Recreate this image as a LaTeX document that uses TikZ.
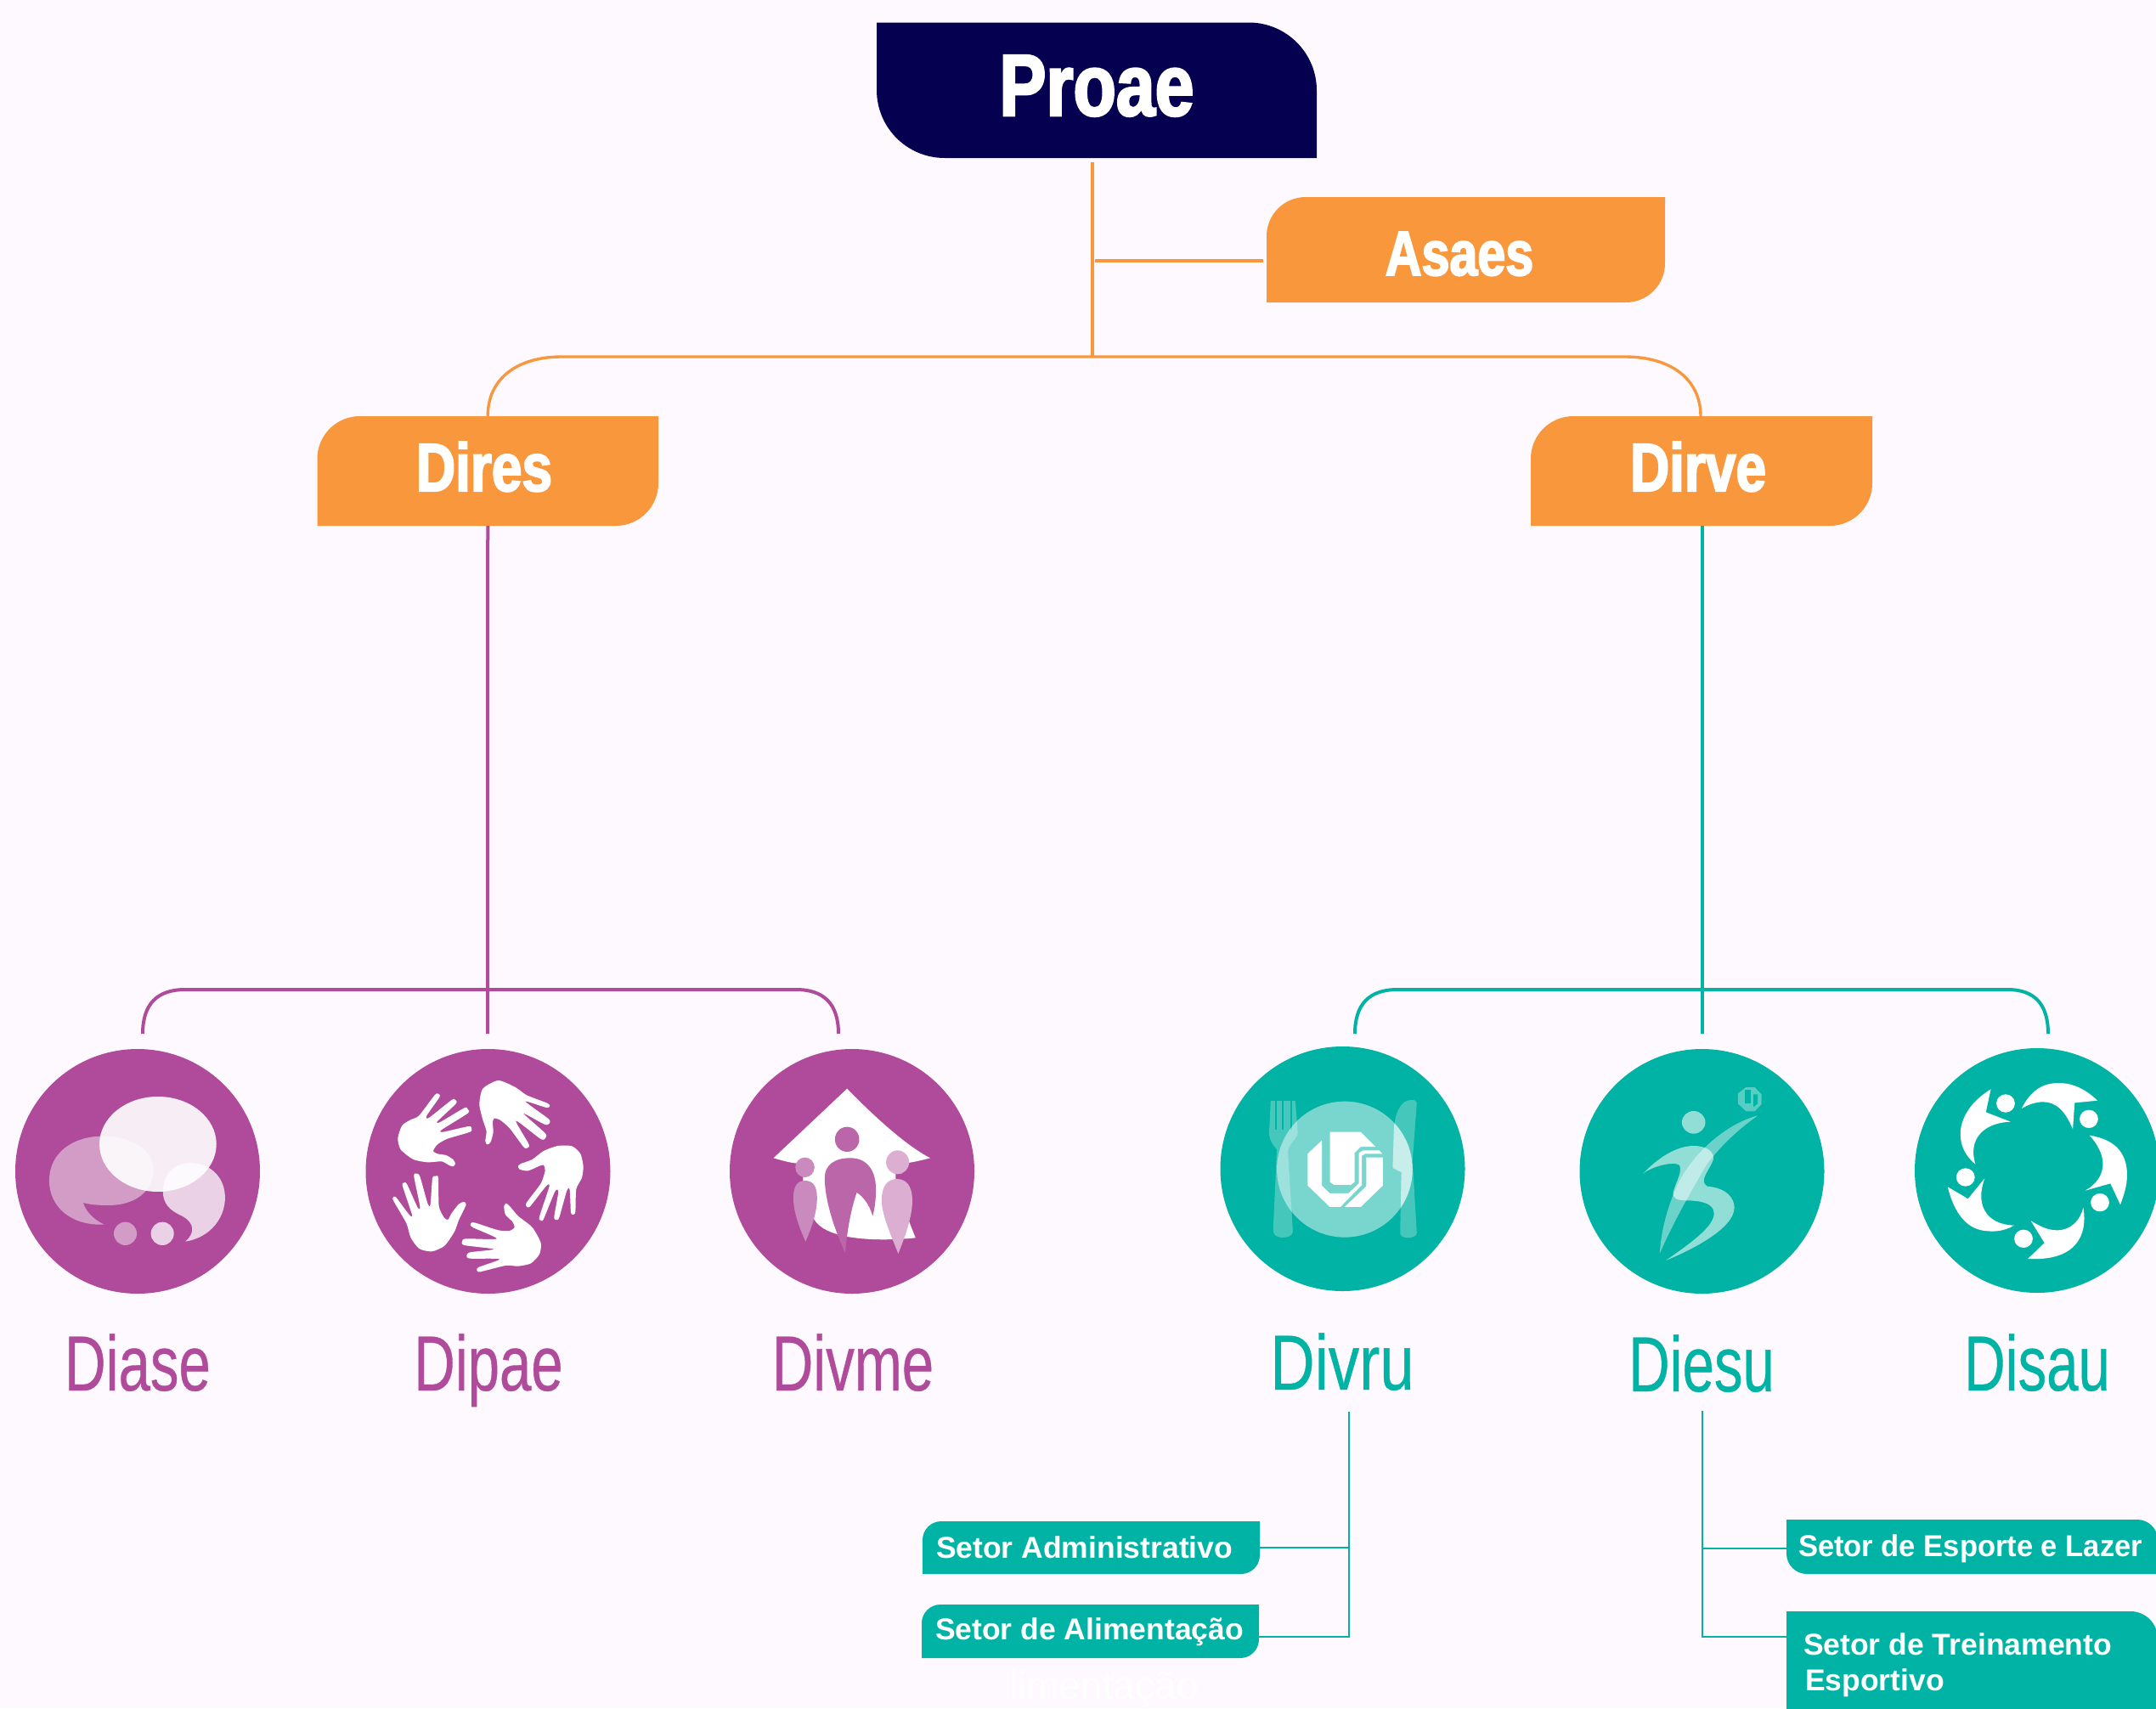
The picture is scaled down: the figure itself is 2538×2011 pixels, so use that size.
\documentclass[tikz,border=0pt]{standalone}
\usepackage{fontspec}
\setmainfont{Liberation Sans}
\newfontfamily\headfont[FakeStretch=0.8,BoldFeatures={FakeBold=2.5}]{Liberation Sans}
\newfontfamily\divfont[FakeStretch=0.73,FakeBold=0.4]{Liberation Sans}
\newfontfamily\divwidefont[FakeStretch=0.79,FakeBold=0.4]{Liberation Sans}
\newfontfamily\espfont[FakeStretch=0.973]{Liberation Sans}
\definecolor{bgc}{HTML}{FEF9FF}
\definecolor{navyc}{HTML}{050050}
\definecolor{orangec}{HTML}{F9973D}
\definecolor{purplec}{HTML}{AF4B9A}
\definecolor{tealc}{HTML}{00B3A4}
\tikzset{
  orangeline/.style={draw=orangec,line width=3.4pt},
  purpleline/.style={draw=purplec,line width=4pt},
  tealline/.style={draw=tealc,line width=4pt},
  sectorline/.style={draw=tealc,line width=2.6pt},
  boxframe/.style={inner sep=0pt,outer sep=0pt,draw=none,fill=none},
  headlabel/.style={inner sep=0pt,outer sep=0pt,anchor=base,text=white},
  divlabel/.style={inner sep=0pt,outer sep=0pt,anchor=base},
  sectorlabel/.style={inner sep=0pt,outer sep=0pt,anchor=base west,text=white,font=\fontsize{35.5}{42}\selectfont\bfseries},
  discnode/.style={circle,inner sep=0pt,outer sep=0pt,minimum size=288pt},
  handshape/.style={fill=white,draw=none},
}
% box with top-right and bottom-left corners rounded
\newcommand{\boxTRBL}[7]{%
  \fill[#7] (#2,#3) -- ({#4-#6},#3) arc[start angle=90,end angle=0,radius=#6 pt] -- (#4,#5)
     -- ({#2+#6},#5) arc[start angle=270,end angle=180,radius=#6 pt] -- cycle;
  \node[boxframe,minimum width={(#4-#2)*1pt},minimum height={(#5-#3)*1pt}] (#1) at ({(#2+#4)/2},{(#3+#5)/2}) {};}
% box with top-left and bottom-right corners rounded
\newcommand{\boxTLBR}[7]{%
  \fill[#7] (#4,#3) -- ({#2+#6},#3) arc[start angle=90,end angle=180,radius=#6 pt] -- (#2,#5)
     -- ({#4-#6},#5) arc[start angle=270,end angle=360,radius=#6 pt] -- cycle;
  \node[boxframe,minimum width={(#4-#2)*1pt},minimum height={(#5-#3)*1pt}] (#1) at ({(#2+#4)/2},{(#3+#5)/2}) {};}
\begin{document}
\begin{tikzpicture}[x=1pt,y=-1pt]
\useasboundingbox (0,0) rectangle (2538,2011);
\clip (0,0) rectangle (2538,2011);
\fill[bgc] (0,0) rectangle (2538,2011);

% ---------- boxes
\boxTRBL{proae}{1032}{26.5}{1550}{186}{80}{navyc}
\boxTLBR{asaes}{1491}{232}{1960}{356}{46}{orangec}
\boxTLBR{dires}{373.5}{490}{775}{619}{50}{orangec}
\boxTLBR{dirve}{1802}{490}{2204}{619}{50}{orangec}
\boxTLBR{sadm}{1086}{1791}{1483}{1853}{22}{tealc}
\boxTLBR{salim}{1085}{1889}{1482}{1952}{22}{tealc}
\boxTRBL{sesp}{2103}{1789}{2540}{1853}{24}{tealc}
\boxTRBL{strein}{2103}{1897}{2540}{2045}{32}{tealc}

\node[headlabel,font=\fontsize{103}{103}\selectfont\bfseries\headfont] (proaeT) at (1291,136) {Proae};
\node[headlabel,font=\fontsize{74}{74}\selectfont\bfseries\headfont] (asaesT) at (1718,324) {Asaes};
\node[headlabel,font=\fontsize{80}{80}\selectfont\bfseries\headfont] (diresT) at (570,578) {Dires};
\node[headlabel,font=\fontsize{80}{80}\selectfont\bfseries\headfont] (dirveT) at (1999,578) {Dirve};

\node[sectorlabel] (sadmT) at (1102,1834) {Setor Administrativo};
\node[sectorlabel] (salimT) at (1101,1930) {Setor de Alimentação};
\node[sectorlabel,font=\fontsize{35.5}{42}\selectfont\bfseries\espfont] (sespT) at (2117,1832) {Setor de Esporte e Lazer};
\node[sectorlabel] (streinT) at (2123,1948) {Setor de Treinamento};
\node[sectorlabel] (streinU) at (2125,1990) {Esportivo};
\node[inner sep=0pt,anchor=base west,text=white,font=\fontsize{46}{46}\selectfont] (ghost) at (1188,2000) {limentação};

% ---------- connectors
\coordinate (ptop) at (1286,191);
\coordinate (hub) at (1286,420);
\coordinate (hubAs) at (1289,307);
\coordinate (asEnd) at (1487,307);
\coordinate (hl) at (661,420);
\coordinate (hr) at (1913,420);
\draw[orangeline] (ptop) -- (hub);
\draw[orangeline] (hubAs) -- (asEnd);
\draw[orangeline] (dires.north) .. controls (574,445) and (610,420) .. (hl) -- (hr) .. controls (1965,420) and (2002,445) .. (2002,490);

\coordinate (pj) at (574,1164);
\coordinate (pc) at (574,1217);
\coordinate (pl) at (168,1217);
\coordinate (pr) at (987,1217);
\draw[purpleline] (dires.south) -- (pc);
\draw[purpleline] (pl) .. controls (168,1182) and (185,1165) .. (218,1165) -- (937,1165) .. controls (970,1165) and (987,1182) .. (pr);

\coordinate (ttop) at (2004,619);
\coordinate (tc) at (2004,1217);
\coordinate (tl) at (1595,1217);
\coordinate (tr) at (2411,1217);
\draw[tealline] (ttop) -- (tc);
\draw[tealline] (tl) .. controls (1595,1182) and (1612,1165) .. (1645,1165) -- (2363,1165) .. controls (2395,1165) and (2411,1182) .. (tr);

\coordinate (lv) at (1588,1662);
\coordinate (la) at (1588,1822);
\coordinate (lb) at (1588,1927);
\draw[sectorline] (lv) -- (lb) -- (salim.east |- lb);
\draw[sectorline] (la) -- (sadm.east |- la);
\coordinate (rv) at (2004,1661);
\coordinate (ra) at (2004,1823);
\coordinate (rb) at (2004,1927);
\draw[sectorline] (rv) -- (rb) -- (sesp.west |- rb);
\draw[sectorline] (ra) -- (sesp.west |- ra);

% ---------- discs
\node[discnode,fill=purplec] (dDiase) at (162,1379) {};
\node[discnode,fill=purplec] (dDipae) at (574.5,1379) {};
\node[discnode,fill=purplec] (dDivme) at (1003,1379) {};
\node[discnode,fill=tealc] (dDivru) at (1580.5,1376) {};
\node[discnode,fill=tealc] (dDiesu) at (2003.5,1379) {};
\node[discnode,fill=tealc] (dDisau) at (2398,1378) {};

\node[divlabel,text=purplec,font=\fontsize{92}{92}\selectfont\divfont] (lDiase) at (162,1637) {Diase};
\node[divlabel,text=purplec,font=\fontsize{92}{92}\selectfont\divfont] (lDipae) at (575,1637) {Dipae};
\node[divlabel,text=purplec,font=\fontsize{92}{92}\selectfont\divfont] (lDivme) at (1004,1637) {Divme};
\node[divlabel,text=tealc,font=\fontsize{92}{92}\selectfont\divwidefont] (lDivru) at (1580,1636) {Divru};
\node[divlabel,text=tealc,font=\fontsize{92}{92}\selectfont\divfont] (lDiesu) at (2003,1638) {Diesu};
\node[divlabel,text=tealc,font=\fontsize{92}{92}\selectfont\divfont] (lDisau) at (2398,1637) {Disau};

% ---------- icons, purple row: coordinates in zoomed-crop units
\begin{scope}[x=.7526pt,y=-.3333pt,yshift=-1200pt]
  % Diase bubbles
  \fill[white,opacity=.9] (247,441) ellipse [x radius=91.5,y radius=168];
  \fill[white,opacity=.45] (163,725) .. controls (110,730) and (77,660) .. (77,570)
     .. controls (77,470) and (115,413) .. (160,413) .. controls (210,413) and (240,465) .. (240,530)
     .. controls (240,610) and (210,657) .. (170,657) .. controls (155,657) and (142,655) .. (130,648)
     .. controls (135,680) and (145,705) .. (163,725) -- cycle;
  \fill[white,opacity=.75] (290,785) .. controls (330,770) and (352,700) .. (352,630)
     .. controls (352,560) and (330,508) .. (298,508) .. controls (270,508) and (255,550) .. (255,610)
     .. controls (255,650) and (265,675) .. (285,695) .. controls (305,720) and (305,755) .. (290,785) -- cycle;
  \fill[white,opacity=.45] (196,757) ellipse [x radius=18,y radius=41];
  \fill[white,opacity=.75] (254,757) ellipse [x radius=18,y radius=41];

  % Divme house
  \fill[white] (1325,245) .. controls (1370,350) and (1420,450) .. (1455,490)
     .. controls (1430,505) and (1415,510) .. (1400,512) -- (1402,600) -- (1432,772)
     .. controls (1390,782) and (1290,790) .. (1272,700) -- (1256,600) -- (1256,510)
     .. controls (1240,510) and (1225,500) .. (1210,490) -- cycle;
  \fill[purplec!85!white] (1325,424) ellipse [x radius=19,y radius=44];
  \fill[purplec!85!white] (1330,490) .. controls (1355,490) and (1370,530) .. (1370,600)
     .. controls (1370,640) and (1368,670) .. (1365,695) .. controls (1360,655) and (1350,625) .. (1340,612)
     .. controls (1330,680) and (1325,750) .. (1322,825) .. controls (1305,740) and (1290,640) .. (1290,560)
     .. controls (1290,515) and (1305,490) .. (1330,490) -- cycle;
  \fill[purplec!65!white] (1259,523) ellipse [x radius=15,y radius=35];
  \fill[purplec!65!white] (1259,570) .. controls (1272,570) and (1278,590) .. (1278,630)
     .. controls (1278,680) and (1270,735) .. (1260,785) .. controls (1250,735) and (1241,680) .. (1241,630)
     .. controls (1241,590) and (1247,570) .. (1259,570) -- cycle;
  \fill[purplec!45!white] (1404,505) ellipse [x radius=18,y radius=42];
  \fill[purplec!45!white] (1403,564) .. controls (1418,564) and (1427,590) .. (1427,640)
     .. controls (1427,700) and (1415,770) .. (1405,828) .. controls (1395,770) and (1379,690) .. (1379,640)
     .. controls (1379,590) and (1388,564) .. (1403,564) -- cycle;
\end{scope}

% Dipae hands
\begin{scope}[x=.3333pt,y=-.3333pt,xshift=440pt,yshift=-1250pt]
  \path[handshape] plot[smooth cycle,tension=.4] coordinates {(440,66) (500,90) (540,118) (610,145) (622,155) (610,162) (535,140) (615,200) (622,215) (605,222) (528,182) (605,252) (607,268) (590,273) (502,208) (547,290) (545,303) (530,302) (480,235) (445,205) (425,200) (420,215) (422,250) (412,285) (400,292) (394,280) (398,245) (385,205) (373,150) (385,95)};
  \path[handshape] plot[smooth cycle,tension=.4] coordinates {(510,368) (520,360) (560,345) (600,315) (650,297) (700,298) (730,325) (740,370) (735,410) (715,450) (712,530) (703,540) (696,530) (692,452) (682,455) (655,550) (645,558) (637,548) (652,460) (640,458) (600,555) (590,560) (585,548) (620,440) (608,440) (553,510) (540,512) (540,497) (590,430) (605,385) (600,365) (585,368) (545,385) (515,380)};
  \path[handshape] plot[smooth cycle,tension=.4] coordinates {(460,510) (468,500) (480,510) (510,545) (560,585) (590,640) (585,680) (555,712) (510,722) (465,720) (375,742) (364,735) (372,725) (445,697) (340,695) (328,685) (340,673) (425,662) (320,648) (312,635) (325,625) (435,625) (350,585) (342,573) (355,568) (440,595) (480,597) (497,585) (490,565) (465,540)};
  \path[handshape] plot[smooth cycle,tension=.4] coordinates {(326,505) (318,495) (300,503) (275,535) (262,558) (248,550) (230,510) (228,410) (218,404) (207,412) (200,505) (190,500) (163,405) (150,395) (142,405) (163,510) (155,515) (117,432) (105,428) (102,440) (135,540) (125,540) (78,478) (68,480) (70,492) (115,570) (130,620) (160,660) (205,670) (250,650) (285,600) (300,560)};
  \path[handshape] plot[smooth cycle,tension=.4] coordinates {(288,360) (280,370) (265,365) (240,352) (190,355) (140,345) (95,310) (85,270) (100,225) (130,205) (160,190) (215,118) (228,113) (232,125) (187,190) (195,198) (275,135) (288,135) (290,148) (225,210) (235,213) (320,163) (332,168) (332,182) (240,240) (245,248) (335,228) (345,235) (340,248) (260,272) (225,292) (210,315) (225,325) (255,330) (280,345)};
\end{scope}

% ---------- icons, teal row
\begin{scope}[x=.7258pt,y=-.3333pt,xshift=1400pt,yshift=-1200pt]
  % Divru fork, plate, knife
  \def\knifepath{(360,285) .. controls (366,285) and (369,288) .. (369,295) -- (362,500) -- (369,755)
     .. controls (369,765) and (362,772) .. (355,772) .. controls (348,772) and (342,765) .. (342,755)
     -- (344,540) -- (330,525) -- (332,380) .. controls (335,320) and (345,285) .. (360,285) -- cycle}
  \fill[white,opacity=.27] (132,288) -- (172,288) -- (176,400) .. controls (176,420) and (160,440) .. (160,470)
     -- (168,750) .. controls (168,762) and (160,771) .. (152,771) .. controls (142,771) and (136,762) .. (136,745)
     -- (142,460) .. controls (130,430) and (128,410) .. (130,380) -- cycle;
  \foreach \tx in {140,152,165}{\fill[tealc] (\tx-1.5,288) rectangle (\tx+1.5,390);}
  \fill[white,opacity=.27] \knifepath;
  \fill[white,opacity=.47] (252,530) ellipse [x radius=110,y radius=240];
  \begin{scope}
    \clip (252,530) ellipse [x radius=110,y radius=240];
    \fill[white,opacity=.45] \knifepath;
  \end{scope}
  % UFU mark
  \fill[white] (228,398) -- (278,398) -- (302,450) -- (278,450) -- (268,472) -- (268,575) -- (262,585) -- (235,585) -- (228,575) -- cycle;
  \fill[white] (215,428) -- (215,587) -- (228,615) -- (258,615) -- (275,580) -- (275,472) -- (282,463) -- (308,463) -- (313,475) -- (285,475) -- (280,482) -- (280,585) -- (245,663) -- (228,663) -- (192,587) -- (192,475) -- cycle;
  \fill[white] (287,488) -- (314,488) -- (314,587) -- (278,663) -- (252,663) -- (287,590) -- cycle;

  % Diesu figure
  \fill[white,opacity=.35] (903,240) -- (917,240) -- (928,265) -- (928,300) -- (917,325) -- (903,325) -- (890,298) -- (890,262) -- cycle;
  \fill[tealc] (901,250) -- (911,250) -- (911,298) -- (901,298) -- cycle;
  \fill[tealc] (915,265) -- (922,265) -- (922,298) -- (915,310) -- cycle;
  \fill[white,opacity=.57] (818,364) ellipse [x radius=19,y radius=40];
  \fill[white,opacity=.42] (922,340) .. controls (870,370) and (820,470) .. (795,570)
     .. controls (775,660) and (765,750) .. (763,828) .. controls (780,740) and (810,620) .. (840,510)
     .. controls (865,440) and (890,390) .. (922,340) -- cycle;
  \fill[white,opacity=.57] (736,545) .. controls (760,490) and (790,447) .. (818,447)
     .. controls (840,447) and (852,470) .. (850,495) .. controls (845,530) and (825,570) .. (840,590)
     .. controls (870,595) and (884,630) .. (884,665) .. controls (884,730) and (830,800) .. (773,852)
     .. controls (820,780) and (851,730) .. (851,685) .. controls (851,650) and (830,640) .. (805,640)
     .. controls (790,640) and (783,630) .. (785,610) .. controls (790,570) and (800,540) .. (795,515)
     .. controls (785,500) and (750,520) .. (736,545) -- cycle;

  % Disau swirl
  \fill[white] (1300,247) -- (1292,328) -- (1332,362) .. controls (1290,365) and (1262,420) .. (1275,512) .. controls (1235,440) and (1245,320) .. (1300,247) -- cycle;
  \fill[white] (1350,315) .. controls (1365,250) and (1385,225) .. (1410,225) .. controls (1435,225) and (1455,250) .. (1473,287) -- (1436,295) -- (1433,388) .. controls (1420,320) and (1405,292) .. (1385,292) .. controls (1372,292) and (1360,302) .. (1350,315) -- cycle;
  \fill[white] (1460,410) .. controls (1505,425) and (1521,480) .. (1521,550) .. controls (1521,590) and (1515,625) .. (1510,655) -- (1494,580) -- (1453,605) .. controls (1490,560) and (1490,480) .. (1460,410) -- cycle;
  \fill[white] (1365,712) .. controls (1385,738) and (1395,745) .. (1408,745) .. controls (1430,745) and (1445,710) .. (1450,665) .. controls (1458,770) and (1435,855) .. (1360,846) -- (1387,790) -- cycle;
  \fill[white] (1230,592) -- (1263,634) -- (1290,562) .. controls (1275,650) and (1290,725) .. (1338,728) .. controls (1320,750) and (1305,750) .. (1295,748) .. controls (1260,745) and (1240,680) .. (1230,592) -- cycle;
  \foreach \dx/\dy in {1324/297,1459/352,1259/558,1477/647,1353/775}{
    \fill[white] (\dx,\dy) ellipse [x radius=15,y radius=32];
  }
\end{scope}
\end{tikzpicture}
\end{document}
